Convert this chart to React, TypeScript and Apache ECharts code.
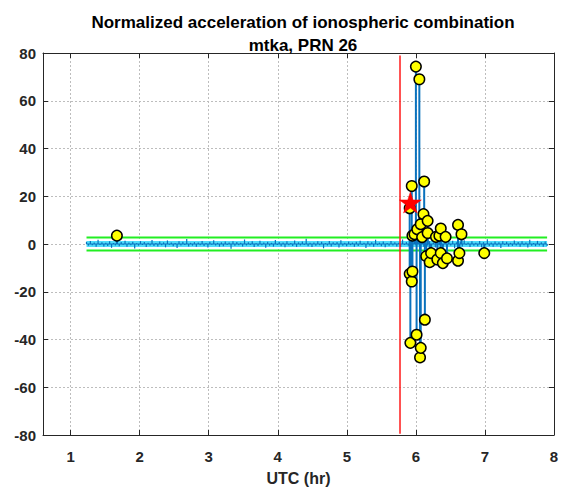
import React, { useEffect, useRef } from "react";
import * as echarts from "echarts";

const TITLE_LINES = ["Normalized acceleration of ionospheric combination", "mtka, PRN 26"];
const X_LABEL = "UTC (hr)";
const X_MIN = 0.6;
const X_MAX = 8;
const Y_MIN = -80;
const Y_MAX = 80;
const Y_STEP = 20;

// epoch grid of the normalized series (hours)
const SERIES_START = 1.23;
const SERIES_END = 7.9;
// normalized acceleration values at each epoch (within threshold)
const NOISE_VALUES = [
  0.9, -0.7, 1.3, -0.5, 0.6, -1.2, 1.8, -0.4, 0.7, -1.0, 0.5, -0.8, 1.1, -1.6, 0.4, -0.6, 2.0, -0.9, 0.8, -0.3,
  1.4, -1.1, 0.6, -0.5, 0.9, -1.9, 0.3, -0.7, 1.2, -0.4, 0.8, -1.3, 0.5, -0.6, 1.7, -0.8, 0.4, -1.0, 1.0, -0.5,
  0.7, -1.4, 1.5, -0.3, 0.6, -0.9, 0.4, -1.7, 1.1, -0.6, 0.9, -0.4, 2.1, -1.0, 0.5, -0.7, 0.8, -1.2, 0.6, -0.5,
  1.3, -0.8, 0.4, -1.5, 0.9, -0.3, 1.6, -0.6, 0.5, -1.1, 0.7, -0.9, 1.0, -0.4, 0.6, -2.0, 1.2, -0.7, 0.8, -0.5,
  0.5, -1.0, 1.9, -0.6, 0.7, -0.4, 1.1, -1.3, 0.3, -0.8, 1.4, -0.5, 0.6, -1.6, 0.9, -0.7, 0.5, -1.1, 1.7, -0.4,
  0.8, -0.9, 0.6, -1.4, 1.2, -0.5, 0.4, -0.8, 1.5, -1.2, 0.7, -0.6, 1.0, -0.4, 2.2, -0.9, 0.5, -1.3, 0.6, -0.7,
  1.1, -0.5, 0.9, -1.8, 0.4, -0.6, 1.3, -1.0, 0.7, -0.4, 0.8, -1.5, 1.6, -0.7, 0.5, -0.9, 1.0, -0.5, 0.6, -1.2,
  0.9, -0.8, 1.4, -0.4, 0.5, -1.7, 1.2, -0.6, 0.7, -1.1, 1.8, -0.5, 0.6, -0.9, 1.0, -1.4, 0.4, -0.7, 1.3, -0.6,
  0.7, -1.0, 0.5, -1.3, 1.9, -0.4, 0.8, -0.7, 1.1, -1.6, 0.6, -0.5, 1.5, -0.9, 0.4, -1.2, 0.9, -0.6, 1.2, -0.8,
  0.6, -1.5, 1.0, -0.4, 1.7, -0.9, 0.5, -1.1, 0.8, -0.6, 1.4, -1.8, 0.7, -0.5, 0.9, -1.0, 1.6, -0.4, 0.6, -1.3,
  1.2, -0.7, 0.5, -0.9, 1.3, -1.4, 0.8, -0.5, 2.0, -0.8, 0.6, -1.2, 1.0, -0.6, 0.7, -1.7, 1.1, -0.4, 0.9, -1.0,
  0.5, -0.8, 1.5, -0.6, 0.8, -1.1, 1.2, -0.5, 0.6, -1.5, 1.8, -0.7, 0.4, -0.9, 1.3, -0.6, 0.7, -1.2, 1.0, -0.8,
];

// outliers exceeding the threshold: [time (hr), value]
const OUTLIER_TIMES = [
  1.67, 5.91, 5.92, 5.91, 5.94, 5.94, 5.95, 5.95, 5.98, 6.0, 6.01, 6.02, 6.05, 6.06, 6.07, 6.07, 6.09, 6.11, 6.12,
  6.13, 6.15, 6.17, 6.17, 6.2, 6.22, 6.29, 6.31, 6.34, 6.36, 6.36, 6.39, 6.43, 6.45, 6.61, 6.61, 6.63, 6.66, 6.99,
];
const OUTLIER_VALUES = [
  3.5, 15.0, -41.4, -12.5, 24.3, -15.7, -11.5, 3.5, 4.1, 74.3, -38.0, 6.2, 69.0, -47.5, -43.5, 8.3, 2.9, 12.5, 26.2,
  -31.7, -5.1, 9.7, 4.6, -7.6, -3.8, 3.0, -6.5, 3.5, 6.5, -3.8, -8.0, 3.0, -6.0, 8.0, -7.0, -3.8, 4.1, -3.8,
];

const THRESHOLD = 2.7;
const EVENT_TIME = 5.77;
const EVENT_LINE_Y = [-79.5, 79];
const DETECTION_POINT = [5.92, 17.4];

const AXIS_COLOR = "#262626";
const FONT = "'Liberation Sans', Arial, Helvetica, sans-serif";

const STAR_PATH =
  "path://M50,0L61.2,34.5L97.6,34.5L68.2,55.9L79.4,90.5L50,69.1L20.6,90.5L31.8,55.9L2.4,34.5L38.8,34.5Z";

function stemRenderer(color: string, width: number) {
  return (_params: any, api: any) => {
    const x = api.value(0);
    const y = api.value(1);
    const p0 = api.coord([x, 0]);
    const p1 = api.coord([x, y]);
    return {
      type: "line",
      shape: { x1: p0[0], y1: p0[1], x2: p1[0], y2: p1[1] },
      style: { stroke: color, lineWidth: width },
    };
  };
}

export default function App() {
  const ref = useRef<HTMLDivElement>(null);

  useEffect(() => {
    if (!ref.current) return;
    const chart = echarts.init(ref.current, undefined, { renderer: "svg" });

    const step = (SERIES_END - SERIES_START) / (NOISE_VALUES.length - 1);
    const noiseData = NOISE_VALUES.map((v, i) => [SERIES_START + i * step, v]);
    const outlierData = OUTLIER_TIMES.map((t, i) => [t, OUTLIER_VALUES[i]]);

    const baseXAxis = {
      type: "value",
      min: X_MIN,
      max: X_MAX,
      minInterval: 1,
      maxInterval: 1,
      axisLine: { show: true, onZero: false, lineStyle: { color: AXIS_COLOR, width: 1 } },
      axisTick: { show: true, inside: true, length: 5, lineStyle: { color: AXIS_COLOR } },
    };
    const baseYAxis = {
      type: "value",
      min: Y_MIN,
      max: Y_MAX,
      interval: Y_STEP,
      axisLine: { show: true, onZero: false, lineStyle: { color: AXIS_COLOR, width: 1 } },
      axisTick: { show: true, inside: true, length: 5, lineStyle: { color: AXIS_COLOR } },
    };

    chart.setOption({
      animation: false,
      backgroundColor: "#ffffff",
      title: {
        text: TITLE_LINES.join("\n"),
        left: 298,
        top: 6,
        textAlign: "center",
        textStyle: {
          fontFamily: FONT,
          fontSize: 17,
          fontWeight: "bold",
          color: "#000000",
          lineHeight: 23,
        },
      },
      grid: { left: 43, right: 12, top: 53, bottom: 54, containLabel: false },
      xAxis: [
        {
          ...baseXAxis,
          position: "bottom",
          name: X_LABEL,
          nameLocation: "middle",
          nameGap: 35,
          nameTextStyle: { fontFamily: FONT, fontSize: 16, fontWeight: "bold", color: AXIS_COLOR },
          axisLabel: {
            show: true,
            margin: 14,
            showMinLabel: false,
            fontFamily: FONT,
            fontSize: 15,
            fontWeight: "bold",
            color: AXIS_COLOR,
          },
          splitLine: { show: true, lineStyle: { color: "#bdbdbd", width: 1, type: [2, 2] } },
        },
        {
          ...baseXAxis,
          position: "top",
          axisLabel: { show: false },
          splitLine: { show: false },
        },
      ],
      yAxis: [
        {
          ...baseYAxis,
          position: "left",
          axisLabel: {
            show: true,
            margin: 7,
            fontFamily: FONT,
            fontSize: 15,
            fontWeight: "bold",
            color: AXIS_COLOR,
          },
          splitLine: { show: true, lineStyle: { color: "#bdbdbd", width: 1, type: [2, 2] } },
        },
        {
          ...baseYAxis,
          position: "right",
          axisLabel: { show: false },
          splitLine: { show: false },
        },
      ],
      series: [
        {
          name: "band",
          type: "line",
          data: [
            [SERIES_START, 0],
            [SERIES_END, 0],
          ],
          symbol: "none",
          lineStyle: { color: "#4fdcfb", width: 6 },
          z: 2,
        },
        {
          name: "upper threshold",
          type: "line",
          data: [
            [SERIES_START, THRESHOLD],
            [SERIES_END, THRESHOLD],
          ],
          symbol: "none",
          lineStyle: { color: "#22ee22", width: 2 },
          z: 3,
        },
        {
          name: "lower threshold",
          type: "line",
          data: [
            [SERIES_START, -THRESHOLD],
            [SERIES_END, -THRESHOLD],
          ],
          symbol: "none",
          lineStyle: { color: "#22ee22", width: 2 },
          z: 3,
        },
        {
          name: "noise stems",
          type: "custom",
          renderItem: stemRenderer("#0a72bd", 1.2),
          encode: { x: 0, y: 1 },
          data: noiseData,
          z: 4,
        },
        {
          name: "baseline",
          type: "line",
          data: [
            [SERIES_START, 0],
            [SERIES_END, 0],
          ],
          symbol: "none",
          lineStyle: { color: "#0a72bd", width: 1.2 },
          z: 5,
        },
        {
          name: "event",
          type: "line",
          data: [
            [EVENT_TIME, EVENT_LINE_Y[0]],
            [EVENT_TIME, EVENT_LINE_Y[1]],
          ],
          symbol: "none",
          lineStyle: { color: "#ff1a1a", width: 1.5 },
          z: 6,
        },
        {
          name: "outlier stems",
          type: "custom",
          renderItem: stemRenderer("#0a72bd", 2),
          encode: { x: 0, y: 1 },
          data: outlierData,
          z: 7,
        },
        {
          name: "outliers",
          type: "scatter",
          data: outlierData,
          symbol: "circle",
          symbolSize: 10.5,
          itemStyle: { color: "#ffff00", borderColor: "#000000", borderWidth: 1.5, opacity: 1 },
          z: 8,
        },
        {
          name: "detection",
          type: "scatter",
          data: [DETECTION_POINT],
          symbol: STAR_PATH,
          symbolSize: [22, 21],
          itemStyle: { color: "#ff0000", borderColor: "#ff0000", borderWidth: 0.5, opacity: 1 },
          z: 9,
        },
      ],
    });

    return () => {
      chart.dispose();
    };
  }, []);

  return (
    <div
      ref={ref}
      style={{ position: "absolute", left: 0, top: 0, width: 566, height: 491, background: "#fff" }}
    />
  );
}
